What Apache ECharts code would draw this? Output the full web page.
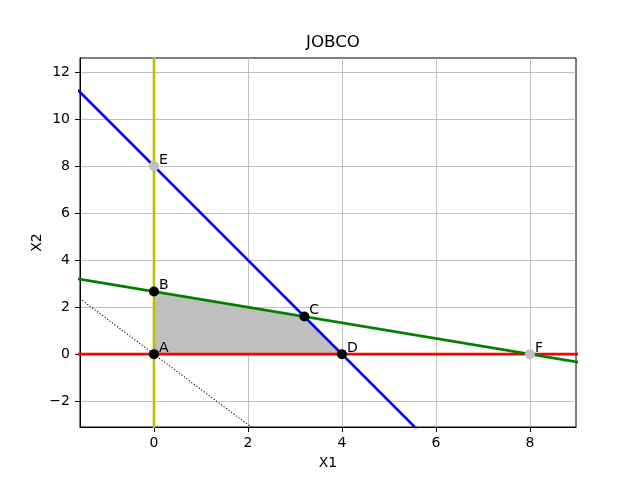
<!DOCTYPE html>
<html>
<head>
<meta charset="utf-8">
<script src="https://cdn.jsdelivr.net/npm/echarts@6/dist/echarts.min.js"></script>
<style>
  html, body { margin: 0; padding: 0; background: #fff; }
  #chart { width: 640px; height: 480px; }
</style>
</head>
<body>
<div id="chart"></div>
<script>
// axis ranges and tick values
var xRange = [-1.574, 8.98];
var yRange = [-3.1, 12.6];
var xTicks = [0, 2, 4, 6, 8];
var yTicks = [-2, 0, 2, 4, 6, 8, 10, 12];

// constraint lines (two end points each, clipped by the grid)
var lineRed = [[-2, 0], [10, 0]];                  // x2 >= 0
var lineYellow = [[0, -4], [0, 14]];               // x1 >= 0
var lineBlue = [[-2, 12], [6, -4]];                // 2x1 + x2 <= 8
var lineGreen = [[-2, 3.333], [10, -0.667]];       // x1 + 3x2 <= 8
var lineObjective = [[-2, 3], [2.5, -3.75]];       // dotted objective line

// feasible region upper edge A-B-C-D (filled down to x2 = 0)
var feasible = [[0, 0], [0, 2.667], [3.2, 1.6], [4, 0]];

// corner points
var cornerNames = ['A', 'B', 'C', 'D'];
var cornerPts = [[0, 0], [0, 2.667], [3.2, 1.6], [4, 0]];
var otherNames = ['E', 'F'];
var otherPts = [[0, 8], [8, 0]];

function minus(v) {
  return String(v).replace('-', '\u2212');
}

function named(names, pts) {
  return pts.map(function (p, i) { return { name: names[i], value: p }; });
}

var myChart = echarts.init(document.getElementById('chart'));

var pointLabel = {
  show: true,
  formatter: '{b}',
  position: 'right',
  distance: 0,
  offset: [0, -6],
  color: '#000',
  fontSize: 14,
  fontFamily: 'DejaVu Sans'
};

function axis(range, ticks, name, gap, margin) {
  return {
    type: 'value',
    min: range[0], max: range[1],
    name: name, nameLocation: 'middle', nameGap: gap, nameMoveOverlap: false,
    nameTextStyle: { fontFamily: 'DejaVu Sans', fontSize: 14, color: '#000' },
    axisLine: { show: true, onZero: false, lineStyle: { color: '#000', width: 1 } },
    axisTick: { show: true, inside: false, length: 5, customValues: ticks, lineStyle: { color: '#000' } },
    axisLabel: {
      margin: margin, fontFamily: 'DejaVu Sans', fontSize: 14, color: '#000',
      customValues: ticks, formatter: minus
    },
    splitLine: { show: true, lineStyle: { color: '#b0b0b0', width: 0.8 } }
  };
}

var option = {
  animation: false,
  backgroundColor: '#fff',
  title: {
    text: 'JOBCO',
    left: 328,
    top: 29,
    textAlign: 'center',
    textStyle: { fontFamily: 'DejaVu Sans', fontSize: 16.7, fontWeight: 'normal', color: '#000' }
  },
  grid: {
    left: 80, right: 64, top: 58, bottom: 53,
    show: true, borderColor: '#000', borderWidth: 1, backgroundColor: 'transparent'
  },
  xAxis: axis(xRange, xTicks, 'X1', 29, 9),
  yAxis: axis(yRange, yTicks, 'X2', 36, 10),
  series: [
    {
      type: 'line', data: feasible, symbol: 'none', z: 1,
      lineStyle: { width: 0 },
      areaStyle: { color: '#bfbfbf', opacity: 1 }
    },
    {
      type: 'line', data: lineObjective, symbol: 'none', z: 2, clip: true,
      lineStyle: { color: '#000', width: 1.1, type: [1.1, 2] }
    },
    {
      type: 'line', data: lineRed, symbol: 'none', z: 2, clip: true,
      lineStyle: { color: '#ff0000', width: 2.6 }
    },
    {
      type: 'line', data: lineYellow, symbol: 'none', z: 2, clip: true,
      lineStyle: { color: '#bfbf00', width: 2.6 }
    },
    {
      type: 'line', data: lineBlue, symbol: 'none', z: 2, clip: true,
      lineStyle: { color: '#0000ff', width: 2.6 }
    },
    {
      type: 'line', data: lineGreen, symbol: 'none', z: 2, clip: true,
      lineStyle: { color: '#008000', width: 2.6 }
    },
    {
      type: 'scatter', data: named(cornerNames, cornerPts), z: 3,
      symbolSize: 10, itemStyle: { color: '#000', opacity: 1 }, label: pointLabel
    },
    {
      type: 'scatter', data: named(otherNames, otherPts), z: 3,
      symbolSize: 10, itemStyle: { color: '#c0c0c0', opacity: 1 }, label: pointLabel
    }
  ]
};

myChart.setOption(option);
window.addEventListener('resize', function () {
  myChart.resize();
});
</script>
</body>
</html>
